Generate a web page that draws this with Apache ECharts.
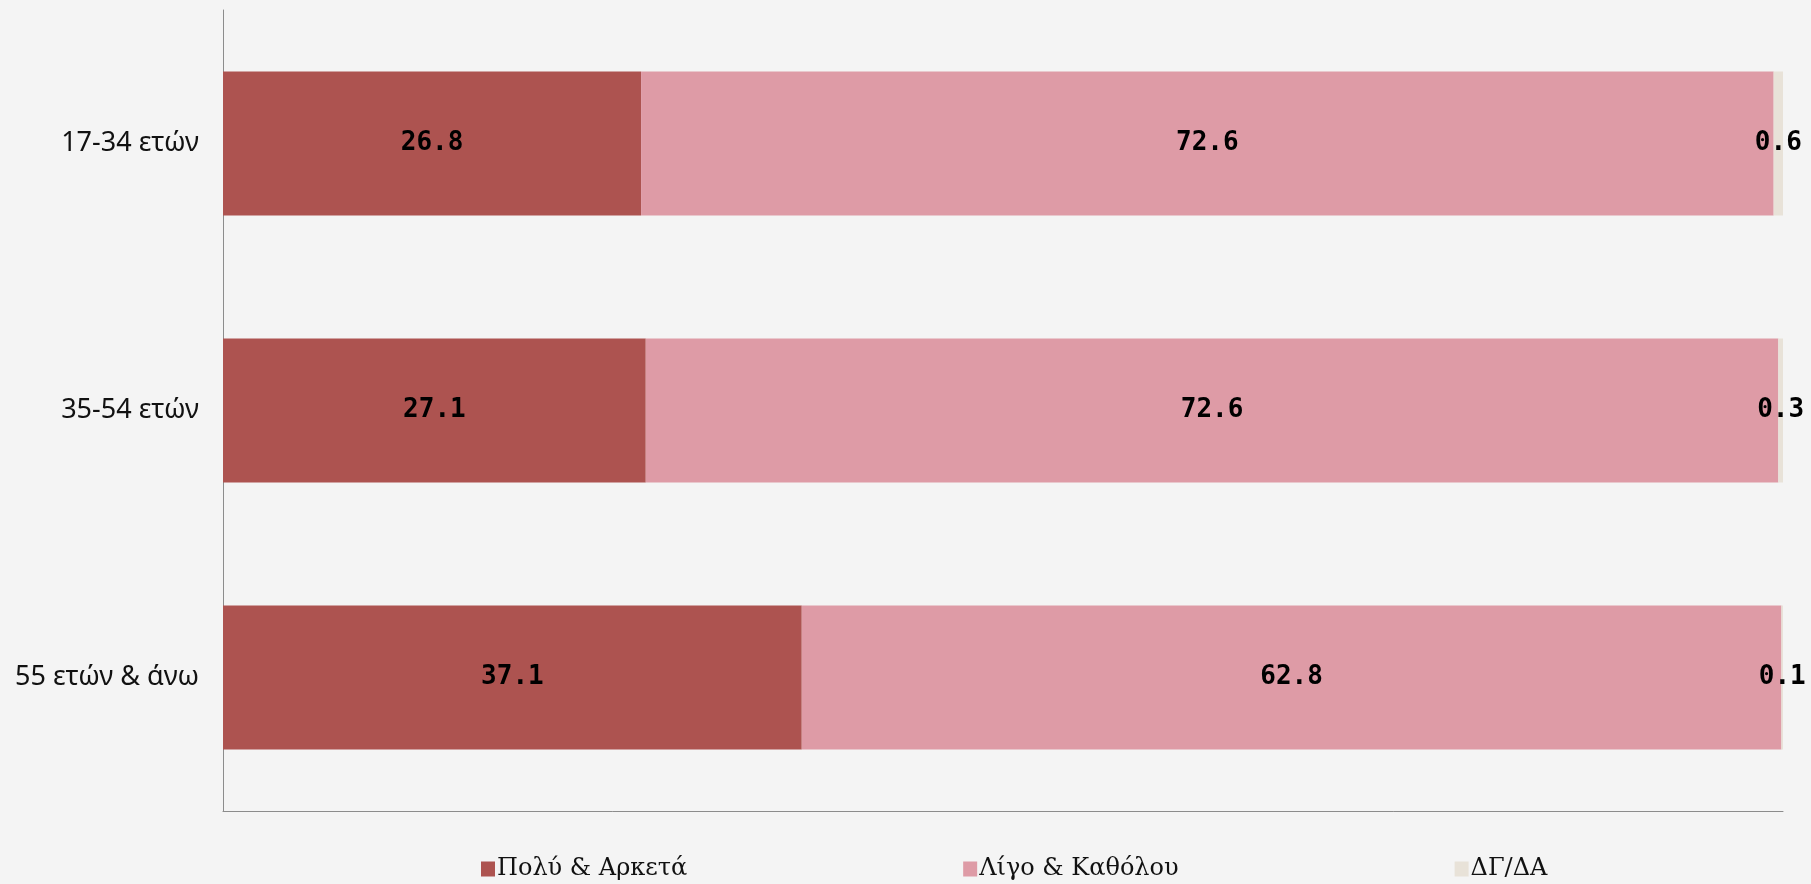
<!DOCTYPE html>
<html>
<head>
<meta charset="utf-8">
<script src="https://cdn.jsdelivr.net/npm/echarts@6/dist/echarts.min.js"></script>
<style>
  html, body { margin: 0; padding: 0; background: #f4f4f4; }
  #chart { width: 1811px; height: 884px; }
</style>
</head>
<body>
<div id="chart"></div>
<script>
// age groups, top to bottom
const categories = ['17-34 ετών', '35-54 ετών', '55 ετών & άνω'];
const seriesNames = ['Πολύ & Αρκετά', 'Λίγο & Καθόλου', 'ΔΓ/ΔΑ'];
const muchValues = [26.8, 27.1, 37.1];
const littleValues = [72.6, 72.6, 62.8];
const dkValues = [0.6, 0.3, 0.1];
const colors = ['#ad5350', '#de9ba6', '#e8e2d8'];

const chart = echarts.init(document.getElementById('chart'));

const labelStyle = {
    show: true,
    position: 'inside',
    color: '#000',
    fontFamily: 'DejaVu Sans Mono',
    fontWeight: 'bold',
    fontSize: 26,
    formatter: p => p.value.toFixed(1)
};

function makeSeries(name, data, color) {
    return {
        name: name,
        type: 'bar',
        stack: 'total',
        barWidth: '54%',
        data: data,
        itemStyle: { color: color },
        label: labelStyle,
        emphasis: { disabled: true }
    };
}

const option = {
    backgroundColor: '#f4f4f4',
    animation: false,
    grid: { left: 223, right: 28, top: 10, bottom: 73 },
    legend: {
        left: 476,
        top: 852,
        itemWidth: 14,
        itemHeight: 15,
        itemGap: 276,
        icon: 'rect',
        textStyle: { fontFamily: 'DejaVu Serif', fontSize: 24, color: '#111', padding: [0, 0, 0, -3] },
        data: seriesNames
    },
    xAxis: {
        type: 'value',
        min: 0,
        max: 100,
        axisLine: { show: true, lineStyle: { color: '#8c8c8c', width: 1 } },
        axisTick: { show: false },
        axisLabel: { show: false },
        splitLine: { show: false }
    },
    yAxis: {
        type: 'category',
        inverse: true,
        data: categories,
        axisLine: { show: true, lineStyle: { color: '#8c8c8c', width: 1 } },
        axisTick: { show: false },
        axisLabel: { fontFamily: 'Noto Sans', fontSize: 27, color: '#111', margin: 24 }
    },
    series: [
        makeSeries(seriesNames[0], muchValues, colors[0]),
        makeSeries(seriesNames[1], littleValues, colors[1]),
        makeSeries(seriesNames[2], dkValues, colors[2])
    ]
};

chart.setOption(option);
</script>
</body>
</html>
